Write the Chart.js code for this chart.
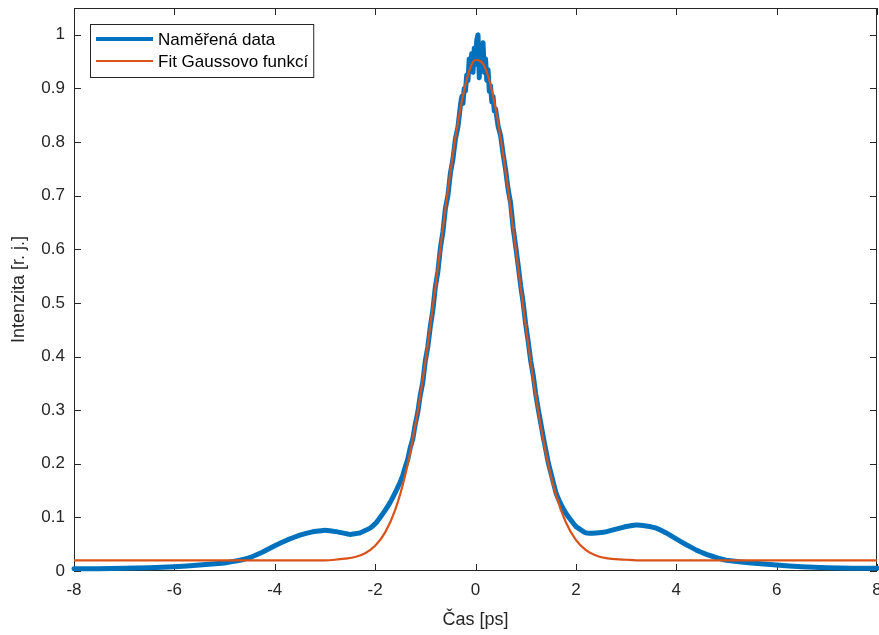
<!DOCTYPE html>
<html lang="cs">
<head>
<meta charset="UTF-8">
<title>Intenzita</title>
<script src="https://cdn.jsdelivr.net/npm/chart.js"></script>
<style>
  html, body { margin: 0; padding: 0; background: #fff; }
</style>
</head>
<body>
<canvas id="graf" width="879" height="635"></canvas>
<script>
// naměřená data
const casData = [-8, -7.5, -7, -6.5, -6, -5.5, -5, -4.75, -4.5, -4.25, -4, -3.75, -3.5, -3.25, -3, -2.75, -2.5, -2.3, -2.1, -2.0,
  -1.9, -1.8, -1.7, -1.6, -1.5, -1.45, -1.4, -1.35, -1.3, -1.25, -1.2, -1.15, -1.1, -1.05, -1.0, -0.95, -0.9, -0.85, -0.8, -0.75,
  -0.7, -0.65, -0.6, -0.55, -0.5, -0.45, -0.4, -0.35, -0.3, -0.275, -0.25, -0.225, -0.2, -0.175, -0.15, -0.125, -0.1, -0.075, -0.05, -0.025,
  0.0, 0.025, 0.05, 0.075, 0.1, 0.125, 0.15, 0.175, 0.2, 0.225, 0.25, 0.275, 0.3, 0.325, 0.35, 0.375, 0.4, 0.45, 0.5, 0.55,
  0.6, 0.65, 0.7, 0.75, 0.8, 0.85, 0.9, 0.95, 1.0, 1.05, 1.1, 1.15, 1.2, 1.25, 1.3, 1.35, 1.4, 1.45, 1.5, 1.6,
  1.7, 1.8, 1.9, 2.0, 2.2, 2.4, 2.6, 2.8, 3.0, 3.2, 3.4, 3.6, 3.8, 4.0, 4.2, 4.4, 4.6, 4.8, 5.0, 5.5,
  6.0, 6.5, 7.0, 7.5, 8.0];
const intenzitaData = [0.004, 0.004, 0.005, 0.006, 0.008, 0.011, 0.015, 0.019, 0.025, 0.035, 0.047, 0.058, 0.067, 0.073, 0.076, 0.073, 0.068, 0.071, 0.080, 0.088,
  0.100, 0.113, 0.128, 0.146, 0.166, 0.178, 0.194, 0.208, 0.230, 0.246, 0.274, 0.296, 0.328, 0.352, 0.392, 0.418, 0.456, 0.486, 0.530, 0.558,
  0.602, 0.632, 0.676, 0.700, 0.742, 0.768, 0.806, 0.828, 0.868, 0.885, 0.872, 0.900, 0.895, 0.925, 0.915, 0.955, 0.935, 0.965, 0.930, 0.975,
  0.945, 0.990, 1.000, 0.920, 0.975, 0.945, 0.985, 0.930, 0.955, 0.915, 0.935, 0.895, 0.905, 0.875, 0.885, 0.858, 0.862, 0.830, 0.812, 0.778,
  0.748, 0.712, 0.686, 0.640, 0.606, 0.570, 0.532, 0.500, 0.460, 0.428, 0.392, 0.365, 0.330, 0.302, 0.276, 0.250, 0.226, 0.202, 0.184, 0.147,
  0.125, 0.108, 0.095, 0.083, 0.071, 0.071, 0.073, 0.078, 0.083, 0.086, 0.084, 0.080, 0.071, 0.060, 0.049, 0.039, 0.031, 0.025, 0.020, 0.015,
  0.011, 0.008, 0.006, 0.005, 0.005];

// fit Gaussovou funkcí
const casFit = [-8, -3.4, -3.2, -3.0, -2.8, -2.6, -2.4, -2.2, -2.0, -1.8, -1.6, -1.4, -1.2, -1.0, -0.8, -0.6, -0.4, -0.2,
  0.0, 0.2, 0.4, 0.6, 0.8, 1.0, 1.2, 1.4, 1.6, 1.8, 2.0, 2.2, 2.4, 2.6, 2.8, 3.0, 3.2, 3.4, 8];
const intenzitaFit = [0.020, 0.020, 0.020, 0.020, 0.021, 0.023, 0.026, 0.033, 0.047, 0.072, 0.114, 0.179, 0.271, 0.389, 0.529, 0.675, 0.808, 0.907,
  0.953, 0.937, 0.863, 0.745, 0.602, 0.457, 0.327, 0.221, 0.143, 0.091, 0.058, 0.039, 0.029, 0.024, 0.022, 0.021, 0.020, 0.020, 0.020];

const xTicks = [-8, -6, -4, -2, 0, 2, 4, 6, 8];
const yTicks = [0, 0.1, 0.2, 0.3, 0.4, 0.5, 0.6, 0.7, 0.8, 0.9, 1];

const fontFam = '"Liberation Sans", Arial, Helvetica, sans-serif';
const ink = '#262626';

// rámeček os, tiky dovnitř a legenda jako v MATLABu
const matlabAxes = {
  id: 'matlabAxes',
  beforeDatasetsDraw(chart) {
    const { ctx, chartArea: a, scales } = chart;
    ctx.save();
    ctx.strokeStyle = ink;
    ctx.lineWidth = 1;
    ctx.strokeRect(a.left + 0.5, a.top + 0.5, a.right - a.left - 1, a.bottom - a.top - 1);
    ctx.beginPath();
    xTicks.forEach(v => {
      const px = Math.round(scales.x.getPixelForValue(v)) + 0.5;
      ctx.moveTo(px, a.bottom); ctx.lineTo(px, a.bottom - 7);
      ctx.moveTo(px, a.top); ctx.lineTo(px, a.top + 7);
    });
    yTicks.forEach(v => {
      const py = Math.round(scales.y.getPixelForValue(v)) + 0.5;
      ctx.moveTo(a.left, py); ctx.lineTo(a.left + 7, py);
      ctx.moveTo(a.right, py); ctx.lineTo(a.right - 7, py);
    });
    ctx.stroke();
    ctx.restore();
  },
  afterDraw(chart) {
    const { ctx, chartArea: a } = chart;
    const sets = chart.data.datasets;
    ctx.save();
    ctx.font = '17px ' + fontFam;
    const textW = Math.max(...sets.map(d => ctx.measureText(d.label).width));
    const bx = a.left + 16, by = a.top + 16;
    const bw = 68 + textW + 5, bh = 53;
    ctx.fillStyle = '#fff';
    ctx.fillRect(bx, by, bw, bh);
    ctx.strokeStyle = ink;
    ctx.lineWidth = 1;
    ctx.strokeRect(bx + 0.5, by + 0.5, bw, bh);
    sets.forEach((d, i) => {
      const cy = by + 15 + i * 22;
      ctx.strokeStyle = d.borderColor;
      ctx.lineWidth = i === 0 ? 4 : 2;
      ctx.beginPath();
      ctx.moveTo(bx + 6, cy); ctx.lineTo(bx + 63, cy);
      ctx.stroke();
      ctx.fillStyle = '#000';
      ctx.textBaseline = 'middle';
      ctx.fillText(d.label, bx + 68, cy + 1);
    });
    ctx.restore();
  }
};

new Chart(document.getElementById('graf'), {
  type: 'line',
  data: {
    datasets: [
      {
        label: 'Naměřená data',
        data: casData.map((x, i) => ({ x: x, y: intenzitaData[i] })),
        borderColor: '#0072BD',
        borderWidth: 5,
        pointRadius: 0,
        tension: 0.05,
        borderCapStyle: 'round',
        borderJoinStyle: 'round',
        clip: 3,
        order: 2
      },
      {
        label: 'Fit Gaussovo funkcí',
        data: casFit.map((x, i) => ({ x: x, y: intenzitaFit[i] })),
        borderColor: '#D95319',
        borderWidth: 2.2,
        pointRadius: 0,
        cubicInterpolationMode: 'monotone',
        order: 1
      }
    ]
  },
  options: {
    responsive: false,
    devicePixelRatio: 1,
    animation: false,
    layout: { padding: { top: 8, right: 2, left: 0, bottom: 0 } },
    plugins: { legend: { display: false }, tooltip: { enabled: false } },
    scales: {
      x: {
        type: 'linear',
        min: -8, max: 8,
        afterBuildTicks: s => { s.ticks = xTicks.map(v => ({ value: v })); },
        afterFit: s => { s.height = 64; s.paddingLeft = 0; s.paddingRight = 0; },
        grid: { display: false, drawTicks: false },
        border: { display: false },
        ticks: { color: ink, font: { family: fontFam, size: 17 }, padding: 9, maxRotation: 0, autoSkip: false },
        title: { display: true, text: 'Čas [ps]', color: ink, font: { family: fontFam, size: 18 }, padding: { top: 0, bottom: 4 } }
      },
      y: {
        type: 'linear',
        min: 0, max: 1.05,
        afterBuildTicks: s => { s.ticks = yTicks.map(v => ({ value: v })); },
        afterFit: s => { s.width = 74; s.paddingTop = 0; s.paddingBottom = 0; },
        grid: { display: false, drawTicks: false },
        border: { display: false },
        ticks: { color: ink, font: { family: fontFam, size: 17 }, padding: 9, autoSkip: false,
          callback: v => String(+v.toFixed(1)) },
        title: { display: true, text: 'Intenzita [r. j.]', color: ink, font: { family: fontFam, size: 18 }, padding: { top: 8, bottom: 0 } }
      }
    }
  },
  plugins: [matlabAxes]
});
</script>
</body>
</html>
